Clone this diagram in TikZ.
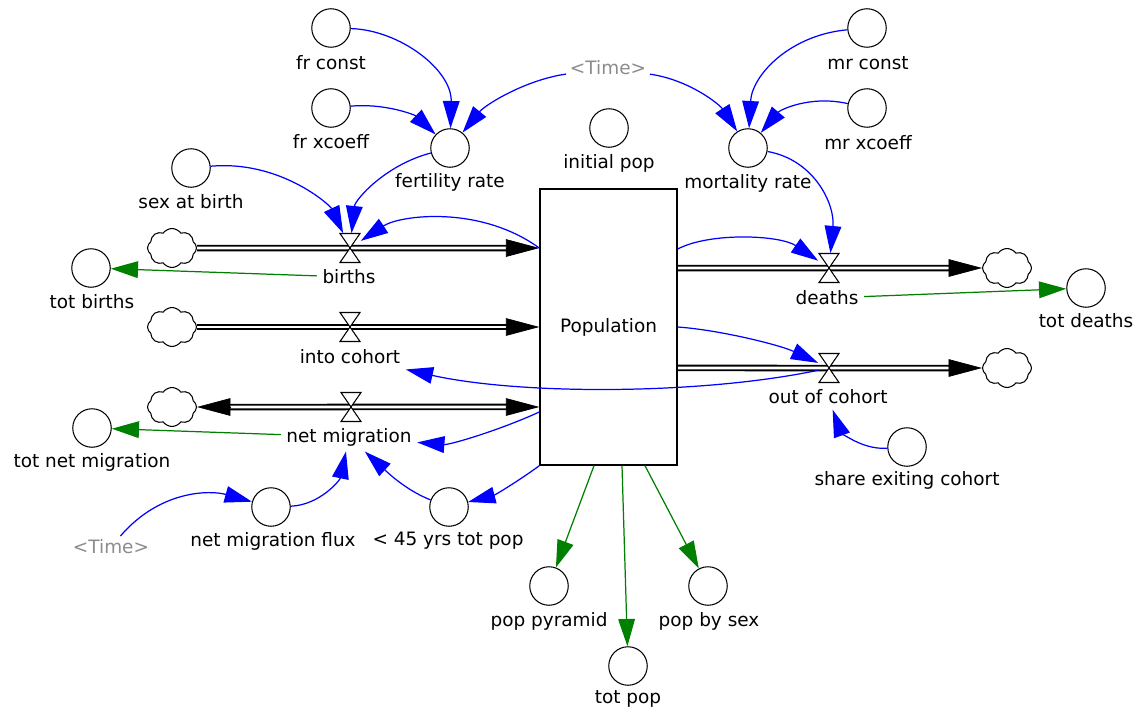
\documentclass[tikz,border=0pt]{standalone}
\usepackage{fontspec}
\setmainfont{DejaVu Sans}
\usetikzlibrary{arrows.meta,shapes.symbols,calc,backgrounds}
\begin{document}
\begin{tikzpicture}[x=0.02cm,y=-0.02cm,
  font=\fontsize{10.5}{12}\selectfont,
  aux/.style={circle,draw,line width=0.6pt,minimum size=0.77cm,inner sep=0pt},
  txt/.style={inner sep=2pt},
  flowlbl/.style={inner sep=3pt},
  ghost/.style={txt,text=black!45},
  stock/.style={draw,line width=0.8pt,minimum width=2.74cm,minimum height=5.52cm,inner sep=0pt},
  sink/.style={cloud,draw,line width=0.6pt,cloud puffs=8,cloud puff arc=110,cloud ignores aspect,
    minimum width=0.98cm,minimum height=0.78cm,inner sep=0pt,fill=white},
  valvebox/.style={minimum width=0.42cm,minimum height=0.58cm,inner sep=0pt},
  pipe/.style={draw,line width=1.1pt,double=white,double distance=1.5pt},
  flowhead/.style={-{Triangle[length=19pt,width=10pt]},line width=0.4pt},
  info/.style={blue,line width=0.7pt,-{Triangle[length=15.5pt,width=9.5pt]}},
  feed/.style={green!50!black,line width=0.7pt,-{Triangle[length=15.5pt,width=9.5pt]}},
  pics/hourglass/.style={code={
    \draw[fill=white,line width=0.6pt] (-0.2cm,-0.29cm) -- (0.2cm,-0.29cm)
      -- (-0.2cm,0.29cm) -- (0.2cm,0.29cm) -- cycle;}}
]
\useasboundingbox (0,0) rectangle (1141,713);

% stock
\node[stock] (pop) at (608.5,327) {Population};

% auxiliaries and their names
\node[aux] (frconst) at (331,28) {};
\node[txt] (frconstL) at (331,63) {fr const};
\node[aux] (frx) at (331,108) {};
\node[txt] (frxL) at (331,142) {fr xcoeff};
\node[aux] (fert) at (450,148) {};
\node[txt] (fertL) at (450,182) {fertility rate};
\node[ghost] (timeA) at (608,68) {<Time>};
\node[aux] (init) at (609,128) {};
\node[txt] (initL) at (609,163) {initial pop};
\node[aux] (mort) at (748,148) {};
\node[txt] (mortL) at (748,183) {mortality rate};
\node[aux] (mrconst) at (867,28) {};
\node[txt] (mrconstL) at (868,63) {mr const};
\node[aux] (mrx) at (867,108) {};
\node[txt] (mrxL) at (868,143) {mr xcoeff};
\node[aux] (sex) at (191,168) {};
\node[txt] (sexL) at (191,202) {sex at birth};
\node[aux] (totb) at (91,268) {};
\node[txt] (totbL) at (92,302) {tot births};
\node[aux] (totn) at (92,428) {};
\node[txt] (totnL) at (92,462) {tot net migration};
\node[ghost] (timeB) at (111,547) {<Time>};
\node[aux] (flux) at (271,507) {};
\node[txt] (fluxL) at (273,541) {net migration flux};
\node[aux] (young) at (449,507) {};
\node[txt] (youngL) at (448,541) {< 45 yrs tot pop};
\node[aux] (totd) at (1086,288) {};
\node[txt] (totdL) at (1086,321) {tot deaths};
\node[aux] (share) at (907,447) {};
\node[txt] (shareL) at (907,480) {share exiting cohort};
\node[aux] (pyr) at (549,586) {};
\node[txt] (pyrL) at (549,621) {pop pyramid};
\node[aux] (totp) at (628,666) {};
\node[txt] (totpL) at (628,699) {tot pop};
\node[aux] (bysex) at (708,586) {};
\node[txt] (bysexL) at (709,621) {pop by sex};

% sources and sinks
\node[sink] (cB) at (172,248) {};
\node[sink] (cI) at (172,327) {};
\node[sink] (cN) at (172,407) {};
\node[sink] (cD) at (1007,268) {};
\node[sink] (cO) at (1007,368) {};

% flow ports on the stock
\coordinate (pB) at ([yshift=1.58cm]pop.west);
\coordinate (pI) at (pop.west);
\coordinate (pN) at ([yshift=-1.6cm]pop.west);
\coordinate (pD) at ([yshift=1.18cm]pop.east);
\coordinate (pO) at ([yshift=-0.82cm]pop.east);

% valves
\node[valvebox] (vB) at (350,248) {};
\node[valvebox] (vI) at (350,327) {};
\node[valvebox] (vN) at (351,407) {};
\node[valvebox] (vD) at (829,268) {};
\node[valvebox] (vO) at (829,368) {};

% flow names
\node[flowlbl] (birthsL) at (349,277) {births};
\node[flowlbl] (intoL) at (350,357) {into cohort};
\node[flowlbl] (netL) at (349,437) {net migration};
\node[flowlbl] (deathsL) at (827,298) {deaths};
\node[flowlbl] (outL) at (828,397) {out of cohort};

% pipes
\begin{scope}[on background layer]
  \fill[white] (0,0) rectangle (1141,713);
  \draw[pipe,shorten >=14pt] (cB.east) -- (pB);
  \draw[pipe,shorten >=14pt] (cI.east) -- (pI);
  \draw[pipe,shorten >=14pt,shorten <=14pt] (cN.east) -- (pN);
  \draw[pipe,shorten >=14pt] (pD) -- (cD.west);
  \draw[pipe,shorten >=14pt] (pO) -- (cO.west);
\end{scope}
\draw[flowhead] ([xshift=-19pt]pB) -- (pB);
\draw[flowhead] ([xshift=-19pt]pI) -- (pI);
\draw[flowhead] ([xshift=-19pt]pN) -- (pN);
\draw[flowhead] ([xshift=19pt]cN.east) -- (cN.east);
\draw[flowhead] ([xshift=-19pt]cD.west) -- (cD.west);
\draw[flowhead] ([xshift=-19pt]cO.west) -- (cO.west);
\foreach \v in {vB,vI,vN,vD,vO} \pic at (\v) {hourglass};

% information links
\draw[info] (frconst) .. controls (400,30) and (452,70) .. (fert);
\draw[info] (frx) .. controls (385,103) and (415,115) .. (fert);
\draw[info] (timeA) .. controls (525,80) and (485,105) .. (fert);
\draw[info] (timeA) .. controls (690,80) and (720,105) .. (mort);
\draw[info] (mrconst) .. controls (790,35) and (752,75) .. (mort);
\draw[info] (mrx) .. controls (810,95) and (780,110) .. (mort);
\draw[info] (mort) .. controls (815,160) and (835,205) .. (vD);
\draw[info] (fert) .. controls (385,165) and (355,200) .. (vB);
\draw[info] (sex) .. controls (280,160) and (330,205) .. (vB);
\draw[info] (pB) .. controls (480,205) and (400,215) .. (vB);
\draw[info] ([yshift=1.56cm]pop.east) .. controls (710,232) and (780,235) .. (vD);
\draw[info] (pop.east) .. controls (720,330) and (780,345) .. (vO);
\draw[info] (vO) .. controls (700,395) and (520,395) .. (intoL);
\draw[info] ([yshift=-1.7cm]pop.west) .. controls (500,430) and (450,445) .. (netL);
\draw[info] (pop.south west) .. controls (520,480) and (495,495) .. (young);
\draw[info] (young) .. controls (405,490) and (385,470) .. (netL);
\draw[info] (flux) .. controls (320,505) and (340,480) .. (netL);
\draw[info] (timeB) .. controls (160,490) and (210,490) .. (flux);
\draw[info] (share) .. controls (860,450) and (840,430) .. (outL);

% accumulating outputs
\draw[feed] (birthsL) -- (totb);
\draw[feed] (netL) -- (totn);
\draw[feed] (deathsL) -- (totd);
\draw[feed] ([xshift=-0.29cm]pop.south) -- (pyr);
\draw[feed] ([xshift=0.27cm]pop.south) -- (totp);
\draw[feed] ([xshift=0.73cm]pop.south) -- (bysex);
\end{tikzpicture}
\end{document}
